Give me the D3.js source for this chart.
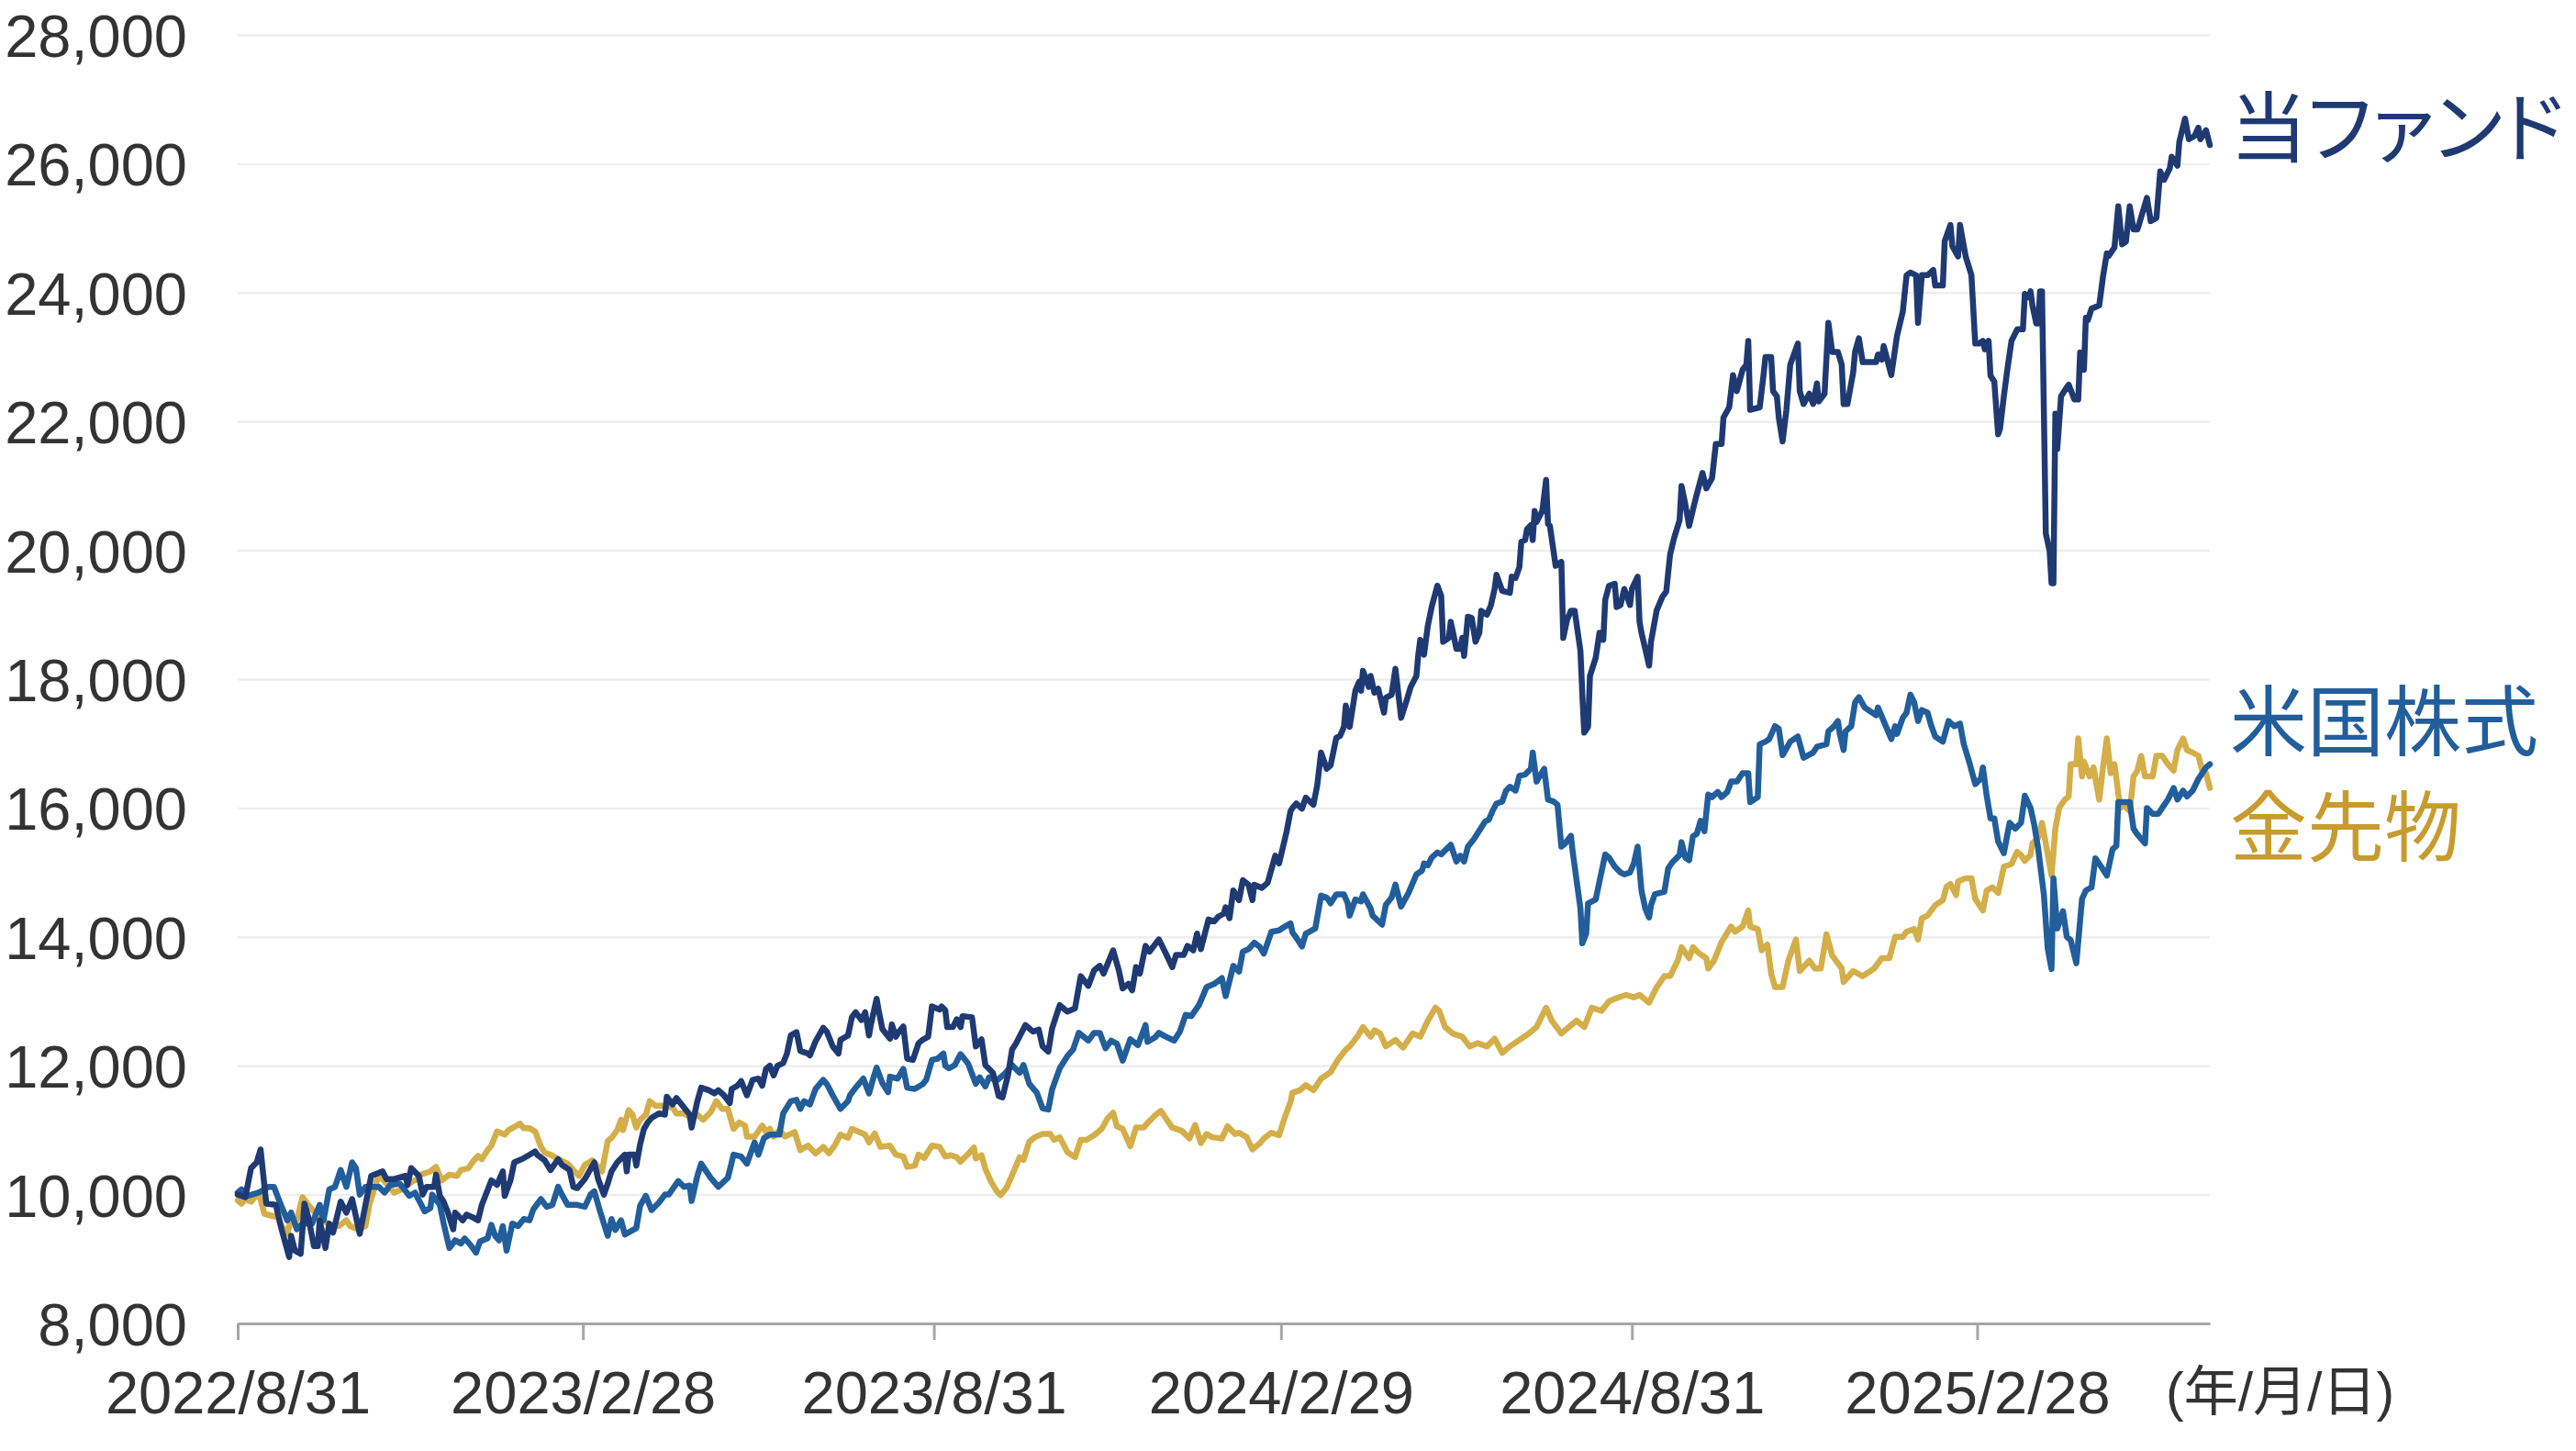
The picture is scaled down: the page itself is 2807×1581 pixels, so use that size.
<!DOCTYPE html>
<html><head><meta charset="utf-8">
<script src="https://cdn.jsdelivr.net/npm/d3@7"></script>
<style>body{margin:0;background:#fff} svg{display:block}</style>
</head><body><svg id="c" width="2807" height="1581"></svg>
<script>
// ---------- DATA ----------
const seriesNames = ["当ファンド", "米国株式", "金先物"];

const fundData = [["2022-08-31",10000],["2022-09-04",9960],["2022-09-07",10410],["2022-09-10",10500],["2022-09-12",10700],["2022-09-15",9860],["2022-09-20",9840],["2022-09-23",9460],["2022-09-27",9030],["2022-09-28",9360],["2022-09-30",9130],["2022-10-03",9080],["2022-10-05",9860],["2022-10-07",9650],["2022-10-10",9200],["2022-10-12",9200],["2022-10-13",9600],["2022-10-16",9170],["2022-10-18",9550],["2022-10-20",9410],["2022-10-24",9890],["2022-10-27",9720],["2022-10-30",9930],["2022-11-03",9390],["2022-11-06",9840],["2022-11-09",10290],["2022-11-15",10360],["2022-11-17",10240],["2022-11-21",10240],["2022-11-27",10290],["2022-11-28",10150],["2022-11-30",10410],["2022-12-04",10290],["2022-12-06",10000],["2022-12-08",10120],["2022-12-12",10120],["2022-12-13",10310],["2022-12-15",9980],["2022-12-17",9890],["2022-12-19",9740],["2022-12-22",9460],["2022-12-23",9720],["2022-12-27",9600],["2022-12-29",9690],["2023-01-01",9650],["2023-01-04",9600],["2023-01-06",9840],["2023-01-11",10220],["2023-01-14",10150],["2023-01-17",10360],["2023-01-18",9980],["2023-01-21",10220],["2023-01-23",10500],["2023-01-27",10550],["2023-01-30",10600],["2023-02-03",10670],["2023-02-04",10620],["2023-02-08",10530],["2023-02-11",10380],["2023-02-15",10550],["2023-02-17",10460],["2023-02-21",10380],["2023-02-23",10120],["2023-02-25",10100],["2023-03-01",10240],["2023-03-06",10500],["2023-03-08",10240],["2023-03-11",10000],["2023-03-13",10170],["2023-03-15",10360],["2023-03-18",10500],["2023-03-22",10620],["2023-03-23",10360],["2023-03-24",10620],["2023-03-27",10620],["2023-03-28",10450],["2023-03-30",10780],["2023-04-01",11020],["2023-04-03",11120],["2023-04-05",11190],["2023-04-09",11260],["2023-04-12",11240],["2023-04-13",11520],["2023-04-16",11400],["2023-04-18",11500],["2023-04-22",11350],["2023-04-25",11240],["2023-04-26",11040],["2023-04-29",11450],["2023-05-01",11660],["2023-05-05",11620],["2023-05-08",11570],["2023-05-10",11620],["2023-05-13",11540],["2023-05-16",11420],["2023-05-17",11640],["2023-05-20",11690],["2023-05-22",11760],["2023-05-25",11540],["2023-05-28",11780],["2023-05-31",11800],["2023-06-02",11690],["2023-06-04",11950],["2023-06-06",12000],["2023-06-08",11850],["2023-06-10",12000],["2023-06-13",12040],["2023-06-15",12190],["2023-06-17",12470],["2023-06-20",12520],["2023-06-22",12230],["2023-06-26",12190],["2023-06-27",12160],["2023-06-30",12380],["2023-07-04",12590],["2023-07-06",12520],["2023-07-09",12300],["2023-07-12",12190],["2023-07-13",12400],["2023-07-17",12470],["2023-07-19",12750],["2023-07-21",12830],["2023-07-24",12710],["2023-07-26",12830],["2023-07-28",12470],["2023-07-29",12640],["2023-08-01",13040],["2023-08-02",12870],["2023-08-04",12570],["2023-08-08",12420],["2023-08-09",12640],["2023-08-11",12450],["2023-08-13",12540],["2023-08-15",12610],["2023-08-17",12110],["2023-08-20",12090],["2023-08-23",12350],["2023-08-25",12400],["2023-08-28",12450],["2023-08-30",12920],["2023-09-03",12870],["2023-09-04",12920],["2023-09-06",12860],["2023-09-07",12600],["2023-09-10",12600],["2023-09-12",12720],["2023-09-14",12600],["2023-09-15",12770],["2023-09-20",12750],["2023-09-22",12300],["2023-09-25",12410],["2023-09-27",12010],["2023-10-01",11890],["2023-10-04",11530],["2023-10-06",11510],["2023-10-09",11870],["2023-10-11",12250],["2023-10-13",12340],["2023-10-18",12630],["2023-10-22",12530],["2023-10-25",12560],["2023-10-27",12300],["2023-10-30",12220],["2023-11-01",12580],["2023-11-05",12940],["2023-11-09",12840],["2023-11-13",12890],["2023-11-16",13390],["2023-11-20",13240],["2023-11-23",13480],["2023-11-26",13550],["2023-11-28",13430],["2023-12-03",13790],["2023-12-06",13480],["2023-12-08",13200],["2023-12-11",13270],["2023-12-13",13170],["2023-12-15",13530],["2023-12-17",13430],["2023-12-20",13860],["2023-12-22",13770],["2023-12-27",13960],["2023-12-31",13720],["2024-01-03",13530],["2024-01-05",13720],["2024-01-09",13720],["2024-01-11",13860],["2024-01-14",13790],["2024-01-16",14050],["2024-01-18",13810],["2024-01-22",14270],["2024-01-25",14240],["2024-01-27",14310],["2024-01-30",14360],["2024-01-31",14460],["2024-02-02",14290],["2024-02-04",14720],["2024-02-07",14570],["2024-02-09",14880],["2024-02-12",14810],["2024-02-14",14570],["2024-02-15",14810],["2024-02-19",14760],["2024-02-22",14840],["2024-02-26",15260],["2024-02-28",15140],["2024-03-03",15640],["2024-03-05",15950],["2024-03-06",16000],["2024-03-08",16070],["2024-03-11",15990],["2024-03-13",16160],["2024-03-17",16050],["2024-03-19",16350],["2024-03-21",16860],["2024-03-24",16610],["2024-03-26",16660],["2024-03-29",17090],["2024-03-31",17120],["2024-04-02",17260],["2024-04-03",17590],["2024-04-05",17260],["2024-04-08",17820],["2024-04-10",17960],["2024-04-11",17820],["2024-04-12",18130],["2024-04-15",17880],["2024-04-16",18050],["2024-04-18",17790],["2024-04-20",17850],["2024-04-23",17480],["2024-04-24",17710],["2024-04-27",17760],["2024-04-29",18160],["2024-05-02",17400],["2024-05-05",17680],["2024-05-07",17880],["2024-05-10",18050],["2024-05-11",18380],["2024-05-12",18610],["2024-05-14",18380],["2024-05-16",18830],["2024-05-18",19120],["2024-05-21",19450],["2024-05-23",19290],["2024-05-24",18580],["2024-05-27",18640],["2024-05-28",18890],["2024-05-31",18470],["2024-06-02",18470],["2024-06-03",18640],["2024-06-04",18360],["2024-06-06",18970],["2024-06-08",18950],["2024-06-10",18580],["2024-06-12",18720],["2024-06-13",19060],["2024-06-16",19000],["2024-06-18",19140],["2024-06-20",19400],["2024-06-21",19620],["2024-06-24",19370],["2024-06-28",19340],["2024-06-29",19590],["2024-07-01",19570],["2024-07-03",19740],["2024-07-04",20130],["2024-07-06",20160],["2024-07-07",20330],["2024-07-09",20390],["2024-07-10",20160],["2024-07-11",20610],["2024-07-12",20440],["2024-07-15",20610],["2024-07-17",21090],["2024-07-18",20410],["2024-07-19",20380],["2024-07-22",19760],["2024-07-25",19820],["2024-07-26",18640],["2024-07-28",18920],["2024-07-30",19060],["2024-08-01",19060],["2024-08-04",18440],["2024-08-05",17760],["2024-08-06",17170],["2024-08-08",17260],["2024-08-09",18050],["2024-08-12",18330],["2024-08-14",18720],["2024-08-16",18610],["2024-08-17",19230],["2024-08-19",19450],["2024-08-22",19480],["2024-08-23",19120],["2024-08-25",19150],["2024-08-27",19400],["2024-08-30",19150],["2024-08-31",19400],["2024-09-03",19590],["2024-09-04",18890],["2024-09-05",18720],["2024-09-07",18470],["2024-09-09",18210],["2024-09-10",18580],["2024-09-13",19070],["2024-09-16",19280],["2024-09-18",19360],["2024-09-20",19930],["2024-09-22",20180],["2024-09-25",20470],["2024-09-26",21000],["2024-09-28",20710],["2024-09-30",20380],["2024-10-02",20630],["2024-10-04",20870],["2024-10-07",21200],["2024-10-09",20960],["2024-10-12",21120],["2024-10-14",21650],["2024-10-17",21650],["2024-10-18",22060],["2024-10-21",22220],["2024-10-23",22720],["2024-10-25",22470],["2024-10-28",22800],["2024-10-30",22880],["2024-10-31",23250],["2024-11-01",22180],["2024-11-06",22220],["2024-11-08",22720],["2024-11-09",23000],["2024-11-12",23000],["2024-11-13",22470],["2024-11-15",22390],["2024-11-16",22060],["2024-11-18",21690],["2024-11-20",22180],["2024-11-22",22880],["2024-11-26",23210],["2024-11-27",22470],["2024-11-29",22270],["2024-12-02",22430],["2024-12-04",22270],["2024-12-06",22590],["2024-12-07",22310],["2024-12-10",22430],["2024-12-12",23530],["2024-12-14",23080],["2024-12-17",23080],["2024-12-19",22880],["2024-12-20",22270],["2024-12-22",22270],["2024-12-25",22760],["2024-12-26",23080],["2024-12-28",23290],["2024-12-30",22920],["2025-01-06",22920],["2025-01-07",23040],["2025-01-09",22960],["2025-01-10",23170],["2025-01-14",22720],["2025-01-17",23330],["2025-01-20",23700],["2025-01-22",24270],["2025-01-24",24310],["2025-01-27",24270],["2025-01-28",23530],["2025-01-30",24270],["2025-02-02",24270],["2025-02-05",24350],["2025-02-06",24110],["2025-02-10",24110],["2025-02-11",24800],["2025-02-14",25050],["2025-02-15",24720],["2025-02-18",24560],["2025-02-19",25050],["2025-02-22",24560],["2025-02-25",24270],["2025-02-27",23210],["2025-03-01",23210],["2025-03-03",23250],["2025-03-04",23120],["2025-03-06",23250],["2025-03-07",22710],["2025-03-09",22620],["2025-03-11",21800],["2025-03-12",21890],["2025-03-14",22390],["2025-03-16",22840],["2025-03-18",23250],["2025-03-21",23430],["2025-03-24",23430],["2025-03-25",23980],["2025-03-27",23930],["2025-03-28",24020],["2025-03-29",23800],["2025-03-31",23520],["2025-04-01",23520],["2025-04-02",24020],["2025-04-03",24020],["2025-04-05",20260],["2025-04-07",19990],["2025-04-08",19490],["2025-04-09",19490],["2025-04-10",22120],["2025-04-11",21570],["2025-04-13",22390],["2025-04-16",22530],["2025-04-17",22570],["2025-04-20",22340],["2025-04-22",22340],["2025-04-23",23070],["2025-04-25",22800],["2025-04-26",23610],["2025-04-27",23570],["2025-04-29",23750],["2025-05-03",23800],["2025-05-05",24250],["2025-05-07",24610],["2025-05-08",24570],["2025-05-11",24700],["2025-05-13",25340],["2025-05-15",24750],["2025-05-17",24790],["2025-05-19",25340],["2025-05-21",24980],["2025-05-23",24980],["2025-05-24",25070],["2025-05-28",25470],["2025-05-30",25110],["2025-06-02",25160],["2025-06-04",25880],["2025-06-06",25750],["2025-06-09",25930],["2025-06-10",26110],["2025-06-13",25970],["2025-06-14",26340],["2025-06-17",26700],["2025-06-19",26380],["2025-06-22",26430],["2025-06-24",26560],["2025-06-25",26380],["2025-06-28",26520],["2025-06-30",26290]];

const usStockData = [["2022-08-31",10030],["2022-09-02",10080],["2022-09-05",9980],["2022-09-11",10030],["2022-09-16",10120],["2022-09-19",10120],["2022-09-22",9890],["2022-09-26",9600],["2022-09-28",9720],["2022-10-01",9460],["2022-10-04",9550],["2022-10-09",9550],["2022-10-13",9840],["2022-10-15",9600],["2022-10-18",10080],["2022-10-21",10120],["2022-10-24",10380],["2022-10-27",10120],["2022-10-30",10500],["2022-11-01",10410],["2022-11-03",10000],["2022-11-06",10120],["2022-11-13",10120],["2022-11-16",10030],["2022-11-19",10150],["2022-11-24",10170],["2022-11-29",9980],["2022-12-02",10030],["2022-12-07",9740],["2022-12-10",9790],["2022-12-11",10000],["2022-12-15",9840],["2022-12-17",9550],["2022-12-20",9170],["2022-12-23",9290],["2022-12-26",9240],["2022-12-28",9320],["2022-12-31",9220],["2023-01-03",9100],["2023-01-05",9270],["2023-01-09",9320],["2023-01-11",9530],["2023-01-13",9360],["2023-01-15",9290],["2023-01-17",9510],["2023-01-19",9130],["2023-01-22",9550],["2023-01-25",9510],["2023-01-28",9620],["2023-01-31",9600],["2023-02-02",9770],["2023-02-06",9930],["2023-02-09",9810],["2023-02-12",9840],["2023-02-15",10120],["2023-02-17",10000],["2023-02-20",9840],["2023-02-25",9840],["2023-03-01",9810],["2023-03-04",10000],["2023-03-06",10050],["2023-03-09",9740],["2023-03-13",9360],["2023-03-15",9620],["2023-03-17",9450],["2023-03-20",9600],["2023-03-22",9380],["2023-03-28",9480],["2023-03-30",9830],["2023-04-02",9980],["2023-04-05",9760],["2023-04-09",9880],["2023-04-12",10000],["2023-04-14",10000],["2023-04-19",10210],["2023-04-22",10120],["2023-04-25",10140],["2023-04-26",9900],["2023-04-29",10290],["2023-05-01",10480],["2023-05-06",10260],["2023-05-10",10120],["2023-05-15",10260],["2023-05-18",10620],["2023-05-22",10590],["2023-05-25",10480],["2023-05-29",10810],["2023-05-31",10620],["2023-06-03",10880],["2023-06-06",10930],["2023-06-11",10930],["2023-06-13",11260],["2023-06-17",11450],["2023-06-20",11470],["2023-06-22",11330],["2023-06-24",11450],["2023-06-27",11400],["2023-06-30",11640],["2023-07-04",11780],["2023-07-06",11710],["2023-07-09",11540],["2023-07-13",11330],["2023-07-17",11450],["2023-07-18",11540],["2023-07-21",11660],["2023-07-25",11800],["2023-07-28",11570],["2023-07-30",11780],["2023-08-01",11970],["2023-08-04",11730],["2023-08-07",11590],["2023-08-08",11830],["2023-08-12",11800],["2023-08-15",11950],["2023-08-17",11660],["2023-08-21",11640],["2023-08-25",11710],["2023-08-27",11780],["2023-08-30",12090],["2023-09-02",12110],["2023-09-05",12190],["2023-09-06",12000],["2023-09-08",11960],["2023-09-11",12010],["2023-09-14",12180],["2023-09-18",12030],["2023-09-22",11720],["2023-09-24",11820],["2023-09-27",11680],["2023-09-29",11820],["2023-10-03",11770],["2023-10-07",11870],["2023-10-11",12010],["2023-10-15",11890],["2023-10-17",12010],["2023-10-20",11720],["2023-10-24",11580],["2023-10-27",11340],["2023-10-30",11320],["2023-11-01",11630],["2023-11-05",11960],["2023-11-09",12150],["2023-11-12",12250],["2023-11-15",12510],["2023-11-20",12390],["2023-11-23",12510],["2023-11-26",12510],["2023-11-29",12270],["2023-12-02",12390],["2023-12-05",12340],["2023-12-08",12080],["2023-12-12",12410],["2023-12-16",12320],["2023-12-20",12630],["2023-12-21",12370],["2023-12-25",12440],["2023-12-27",12510],["2023-12-30",12460],["2024-01-04",12390],["2024-01-07",12530],["2024-01-10",12790],["2024-01-13",12770],["2024-01-17",12940],["2024-01-21",13220],["2024-01-25",13270],["2024-01-29",13360],["2024-01-31",13080],["2024-02-04",13550],["2024-02-07",13460],["2024-02-09",13770],["2024-02-12",13810],["2024-02-15",13910],["2024-02-18",13840],["2024-02-20",13740],["2024-02-24",14080],["2024-02-28",14100],["2024-03-02",14160],["2024-03-05",14210],["2024-03-06",14070],["2024-03-08",13990],["2024-03-11",13850],["2024-03-13",14050],["2024-03-18",14130],["2024-03-21",14640],["2024-03-24",14610],["2024-03-26",14520],["2024-03-29",14660],["2024-04-02",14660],["2024-04-04",14520],["2024-04-05",14330],["2024-04-08",14580],["2024-04-11",14550],["2024-04-12",14660],["2024-04-16",14440],["2024-04-17",14330],["2024-04-22",14190],["2024-04-24",14500],["2024-04-27",14610],["2024-04-29",14810],["2024-05-02",14470],["2024-05-06",14690],["2024-05-10",14970],["2024-05-13",15030],["2024-05-14",15140],["2024-05-16",15110],["2024-05-18",15230],["2024-05-21",15310],["2024-05-23",15280],["2024-05-26",15370],["2024-05-28",15430],["2024-05-31",15170],["2024-06-02",15260],["2024-06-04",15170],["2024-06-06",15400],["2024-06-09",15510],["2024-06-12",15650],["2024-06-15",15790],["2024-06-17",15820],["2024-06-19",15960],["2024-06-21",16070],["2024-06-24",16100],["2024-06-26",16270],["2024-06-28",16330],["2024-07-01",16270],["2024-07-03",16500],["2024-07-06",16520],["2024-07-09",16610],["2024-07-10",16860],["2024-07-12",16410],["2024-07-16",16610],["2024-07-18",16130],["2024-07-21",16100],["2024-07-23",16050],["2024-07-25",15400],["2024-07-27",15450],["2024-07-30",15570],["2024-07-31",15310],["2024-08-04",14440],["2024-08-05",13900],["2024-08-07",14050],["2024-08-08",14520],["2024-08-12",14580],["2024-08-14",14860],["2024-08-17",15280],["2024-08-19",15230],["2024-08-22",15090],["2024-08-25",15000],["2024-08-27",14970],["2024-08-30",15000],["2024-09-01",15140],["2024-09-03",15400],["2024-09-05",14720],["2024-09-07",14440],["2024-09-09",14300],["2024-09-10",14490],["2024-09-12",14660],["2024-09-17",14700],["2024-09-19",15060],["2024-09-21",15150],["2024-09-25",15270],["2024-09-26",15470],["2024-09-28",15230],["2024-09-30",15190],["2024-10-02",15560],["2024-10-04",15600],["2024-10-06",15800],["2024-10-08",15640],["2024-10-10",16210],["2024-10-12",16170],["2024-10-15",16250],["2024-10-17",16170],["2024-10-20",16250],["2024-10-22",16410],["2024-10-25",16410],["2024-10-28",16540],["2024-10-31",16540],["2024-11-01",16090],["2024-11-05",16170],["2024-11-06",16990],["2024-11-09",17030],["2024-11-11",17070],["2024-11-14",17270],["2024-11-16",17230],["2024-11-18",16820],["2024-11-22",17030],["2024-11-26",17110],["2024-11-29",16780],["2024-12-04",16860],["2024-12-06",16950],["2024-12-11",16990],["2024-12-12",17190],["2024-12-15",17270],["2024-12-17",17350],["2024-12-18",17150],["2024-12-20",16900],["2024-12-21",17190],["2024-12-24",17270],["2024-12-26",17640],["2024-12-28",17720],["2024-12-31",17560],["2025-01-06",17440],["2025-01-07",17560],["2025-01-10",17350],["2025-01-14",17070],["2025-01-16",17270],["2025-01-17",17150],["2025-01-20",17400],["2025-01-22",17480],["2025-01-24",17760],["2025-01-26",17640],["2025-01-28",17350],["2025-01-30",17520],["2025-02-02",17480],["2025-02-04",17270],["2025-02-06",17110],["2025-02-10",17030],["2025-02-13",17350],["2025-02-16",17270],["2025-02-19",17310],["2025-02-21",16990],["2025-02-24",16700],["2025-02-27",16370],["2025-03-02",16460],["2025-03-03",16630],["2025-03-05",16190],["2025-03-07",15840],["2025-03-09",15840],["2025-03-11",15480],["2025-03-14",15300],["2025-03-17",15770],["2025-03-20",15680],["2025-03-23",15770],["2025-03-25",16190],["2025-03-28",16000],["2025-03-30",15730],["2025-04-01",15370],["2025-04-04",14650],["2025-04-06",13820],["2025-04-08",13500],["2025-04-09",14910],["2025-04-11",14130],["2025-04-14",14400],["2025-04-16",14000],["2025-04-18",13950],["2025-04-21",13590],["2025-04-24",14590],["2025-04-26",14720],["2025-04-29",14770],["2025-05-01",15220],["2025-05-04",15090],["2025-05-07",14950],["2025-05-10",15360],["2025-05-12",15410],["2025-05-13",16090],["2025-05-16",16090],["2025-05-19",16090],["2025-05-21",15680],["2025-05-23",15590],["2025-05-27",15450],["2025-05-28",16000],["2025-05-31",15910],["2025-06-03",15910],["2025-06-05",16000],["2025-06-08",16130],["2025-06-11",16310],["2025-06-13",16130],["2025-06-16",16270],["2025-06-18",16180],["2025-06-21",16270],["2025-06-24",16450],["2025-06-28",16630],["2025-06-30",16680]];

const goldData = [["2022-08-31",9910],["2022-09-02",9860],["2022-09-04",9930],["2022-09-07",9890],["2022-09-11",10030],["2022-09-14",9700],["2022-09-18",9670],["2022-09-21",9650],["2022-09-23",9510],["2022-09-26",9390],["2022-09-28",9620],["2022-10-01",9600],["2022-10-04",9960],["2022-10-07",9840],["2022-10-10",9740],["2022-10-13",9650],["2022-10-18",9530],["2022-10-23",9510],["2022-10-27",9600],["2022-10-29",9510],["2022-11-02",9460],["2022-11-06",9510],["2022-11-08",9840],["2022-11-10",10030],["2022-11-13",10310],["2022-11-17",10170],["2022-11-21",10030],["2022-11-25",10080],["2022-11-30",10190],["2022-12-03",10240],["2022-12-05",10310],["2022-12-10",10360],["2022-12-13",10430],["2022-12-16",10220],["2022-12-20",10310],["2022-12-24",10290],["2022-12-26",10380],["2022-12-30",10410],["2023-01-01",10500],["2023-01-04",10600],["2023-01-06",10550],["2023-01-09",10690],["2023-01-11",10760],["2023-01-14",10980],["2023-01-18",10930],["2023-01-20",11000],["2023-01-23",11050],["2023-01-26",11100],["2023-01-28",11030],["2023-01-31",11030],["2023-02-03",10980],["2023-02-06",10740],["2023-02-08",10650],["2023-02-11",10620],["2023-02-15",10550],["2023-02-20",10480],["2023-02-23",10380],["2023-02-26",10290],["2023-03-01",10460],["2023-03-05",10530],["2023-03-10",10360],["2023-03-13",10830],["2023-03-15",10880],["2023-03-18",11000],["2023-03-20",11160],["2023-03-21",11000],["2023-03-24",11310],["2023-03-26",11240],["2023-03-28",11040],["2023-03-30",11160],["2023-04-02",11240],["2023-04-04",11450],["2023-04-07",11380],["2023-04-11",11380],["2023-04-16",11350],["2023-04-18",11260],["2023-04-22",11260],["2023-04-26",11190],["2023-04-29",11240],["2023-05-02",11160],["2023-05-06",11280],["2023-05-09",11450],["2023-05-12",11330],["2023-05-15",11330],["2023-05-18",11020],["2023-05-21",11120],["2023-05-24",11070],["2023-05-25",10900],["2023-05-29",10900],["2023-06-02",11070],["2023-06-04",10970],["2023-06-06",11020],["2023-06-08",10900],["2023-06-11",11000],["2023-06-14",10900],["2023-06-19",10970],["2023-06-22",10690],["2023-06-26",10760],["2023-06-30",10640],["2023-07-04",10740],["2023-07-07",10640],["2023-07-10",10760],["2023-07-13",10930],["2023-07-17",10880],["2023-07-19",11020],["2023-07-23",10970],["2023-07-26",10930],["2023-07-28",10810],["2023-07-31",10950],["2023-08-03",10740],["2023-08-08",10760],["2023-08-11",10620],["2023-08-15",10590],["2023-08-17",10430],["2023-08-21",10450],["2023-08-23",10620],["2023-08-26",10570],["2023-08-30",10760],["2023-09-03",10740],["2023-09-06",10590],["2023-09-09",10610],["2023-09-12",10580],["2023-09-14",10510],["2023-09-18",10630],["2023-09-21",10730],["2023-09-22",10560],["2023-09-25",10610],["2023-09-27",10400],["2023-09-30",10200],["2023-10-03",10050],["2023-10-05",9990],["2023-10-08",10100],["2023-10-11",10300],["2023-10-15",10580],["2023-10-17",10540],["2023-10-20",10820],["2023-10-23",10890],["2023-10-27",10940],["2023-10-31",10940],["2023-11-02",10850],["2023-11-05",10890],["2023-11-09",10660],["2023-11-13",10580],["2023-11-16",10850],["2023-11-19",10850],["2023-11-23",10920],["2023-11-27",11020],["2023-11-30",11180],["2023-12-03",11270],["2023-12-05",11060],["2023-12-08",11020],["2023-12-12",10750],["2023-12-15",11040],["2023-12-19",11040],["2023-12-21",11110],["2023-12-25",11230],["2023-12-28",11300],["2023-12-30",11210],["2024-01-03",11040],["2024-01-08",10990],["2024-01-12",10870],["2024-01-15",11080],["2024-01-18",10800],["2024-01-21",10940],["2024-01-24",10890],["2024-01-29",10870],["2024-02-01",11060],["2024-02-05",10940],["2024-02-07",10960],["2024-02-11",10890],["2024-02-14",10700],["2024-02-18",10800],["2024-02-20",10870],["2024-02-24",10960],["2024-02-28",10920],["2024-03-02",11200],["2024-03-05",11440],["2024-03-06",11580],["2024-03-10",11620],["2024-03-13",11700],["2024-03-17",11620],["2024-03-21",11800],["2024-03-26",11900],["2024-03-30",12100],["2024-04-03",12250],["2024-04-05",12300],["2024-04-09",12450],["2024-04-12",12600],["2024-04-16",12450],["2024-04-18",12550],["2024-04-21",12500],["2024-04-24",12300],["2024-04-29",12400],["2024-05-03",12280],["2024-05-08",12500],["2024-05-12",12450],["2024-05-16",12700],["2024-05-20",12900],["2024-05-22",12850],["2024-05-25",12600],["2024-05-29",12500],["2024-06-03",12450],["2024-06-07",12300],["2024-06-11",12350],["2024-06-16",12300],["2024-06-20",12420],["2024-06-24",12200],["2024-06-28",12300],["2024-07-03",12400],["2024-07-08",12500],["2024-07-12",12600],["2024-07-17",12900],["2024-07-20",12700],["2024-07-25",12500],["2024-07-29",12600],["2024-08-02",12700],["2024-08-06",12600],["2024-08-10",12900],["2024-08-15",12850],["2024-08-19",13000],["2024-08-23",13050],["2024-08-28",13100],["2024-09-01",13060],["2024-09-04",13100],["2024-09-09",12980],["2024-09-13",13220],["2024-09-17",13390],["2024-09-20",13390],["2024-09-24",13630],["2024-09-26",13840],["2024-09-30",13670],["2024-10-02",13840],["2024-10-05",13750],["2024-10-09",13670],["2024-10-10",13510],["2024-10-13",13630],["2024-10-17",13920],["2024-10-22",14160],["2024-10-24",14080],["2024-10-28",14160],["2024-10-31",14410],["2024-11-01",14160],["2024-11-05",14120],["2024-11-07",13790],["2024-11-10",13880],["2024-11-12",13430],["2024-11-14",13220],["2024-11-18",13220],["2024-11-21",13630],["2024-11-25",13960],["2024-11-27",13470],["2024-12-02",13630],["2024-12-05",13510],["2024-12-08",13510],["2024-12-11",14040],["2024-12-14",13710],["2024-12-19",13510],["2024-12-20",13300],["2024-12-25",13470],["2024-12-30",13390],["2025-01-05",13510],["2025-01-09",13670],["2025-01-13",13670],["2025-01-16",14000],["2025-01-20",14000],["2025-01-22",14080],["2025-01-26",14120],["2025-01-28",13960],["2025-01-30",14290],["2025-02-02",14330],["2025-02-06",14490],["2025-02-10",14570],["2025-02-12",14780],["2025-02-14",14820],["2025-02-17",14650],["2025-02-18",14860],["2025-02-21",14900],["2025-02-23",14910],["2025-02-25",14910],["2025-02-27",14590],["2025-03-03",14410],["2025-03-05",14720],["2025-03-08",14770],["2025-03-11",14680],["2025-03-13",14950],["2025-03-14",15090],["2025-03-18",15130],["2025-03-21",15320],["2025-03-23",15270],["2025-03-25",15180],["2025-03-28",15270],["2025-03-29",15450],["2025-04-01",15540],["2025-04-03",15770],["2025-04-05",15450],["2025-04-08",14950],["2025-04-10",15680],["2025-04-12",16000],["2025-04-15",16130],["2025-04-17",16180],["2025-04-18",16680],["2025-04-21",16680],["2025-04-22",17080],["2025-04-24",16490],["2025-04-25",16720],["2025-04-28",16490],["2025-04-30",16630],["2025-05-03",16130],["2025-05-05",16630],["2025-05-07",17080],["2025-05-09",16540],["2025-05-11",16680],["2025-05-14",16000],["2025-05-16",16040],["2025-05-19",15950],["2025-05-21",16490],["2025-05-23",16580],["2025-05-25",16810],["2025-05-27",16490],["2025-05-31",16490],["2025-06-02",16810],["2025-06-05",16810],["2025-06-08",16680],["2025-06-11",16580],["2025-06-13",16900],["2025-06-16",17080],["2025-06-18",16900],["2025-06-21",16860],["2025-06-24",16810],["2025-06-26",16580],["2025-06-28",16540],["2025-06-30",16310]];

const yTickValues = [8000, 10000, 12000, 14000, 16000, 18000, 20000, 22000, 24000, 26000, 28000];
const xTickDates = ["2022-08-31", "2023-02-28", "2023-08-31", "2024-02-29", "2024-08-31", "2025-02-28"];
const xDomainDates = ["2022-08-31", "2025-06-30"];
const labelAnchorValues = [26570, 17360, 15720];   // vertical placement of the end labels (in chart units)
const xUnitLabel = "(年/月/日)";

// ---------- STYLE ----------
const colors = ["#1f3a73", "#215e9b", "#d4ae48"];
const labelColors = ["#1f3a73", "#215e9b", "#c89b2e"];
const m = {left: 259, right: 2408, top: 38, bottom: 1442};

const parse = d3.timeParse("%Y-%m-%d");
const svg = d3.select("#c");

const x = d3.scaleTime().domain(xDomainDates.map(parse)).range([m.left, m.right]);
const y = d3.scaleLinear().domain([8000, 28000]).range([m.bottom, m.top]);

const fontLatin = "'Liberation Sans', Arial, sans-serif";
const fontCJK = "'Noto Sans CJK JP', 'Noto Sans CJK SC', sans-serif";

// Y axis with grid
const yAxis = d3.axisLeft(y).tickValues(yTickValues).tickFormat(d3.format(",")).tickSize(-(m.right - m.left)).tickPadding(55);
const gy = svg.append("g").attr("transform", `translate(${m.left},0)`).call(yAxis);
gy.select(".domain").remove();
gy.selectAll(".tick line").attr("stroke", "#eeeeee").attr("stroke-width", 2.5);
gy.selectAll(".tick text").attr("fill", "#333").attr("font-size", 65).attr("font-family", fontLatin).attr("dy", "0.36em");

// Lines (gold, US, fund on top)
const line = d3.line().x(d => x(parse(d[0]))).y(d => y(d[1])).curve(d3.curveLinear);
const allSeries = [fundData, usStockData, goldData];
[2, 1, 0].forEach(i => {
  svg.append("path").datum(allSeries[i]).attr("d", line)
    .attr("fill", "none").attr("stroke", colors[i]).attr("stroke-width", 6.5)
    .attr("stroke-linejoin", "round").attr("stroke-linecap", "round");
});

// X axis
const fmt = d3.timeFormat("%Y/%-m/%-d");
const xAxis = d3.axisBottom(x).tickValues(xTickDates.map(parse)).tickFormat(fmt).tickSize(18).tickSizeOuter(0).tickPadding(34);
const gx = svg.append("g").attr("transform", `translate(0,${m.bottom})`).call(xAxis);
gx.select(".domain").attr("stroke", "#a6a6a6").attr("stroke-width", 3);
gx.selectAll(".tick line").attr("stroke", "#a6a6a6").attr("stroke-width", 3);
gx.selectAll(".tick text").attr("fill", "#333").attr("font-size", 65).attr("font-family", fontLatin);

svg.append("text").attr("x", 2360).attr("y", 1537).attr("fill", "#333")
  .attr("font-size", 59).attr("font-family", "'Liberation Sans', 'Noto Sans CJK JP', sans-serif").text(xUnitLabel);

// Series labels
seriesNames.forEach((n, i) => {
  svg.append("text").attr("x", 2430).attr("y", y(labelAnchorValues[i])).attr("dy", "0.38em")
    .attr("fill", labelColors[i]).attr("font-size", 84).attr("font-family", fontCJK)
    .style("font-feature-settings", "'palt' 1")
    .text(n);
});
</script></body></html>
